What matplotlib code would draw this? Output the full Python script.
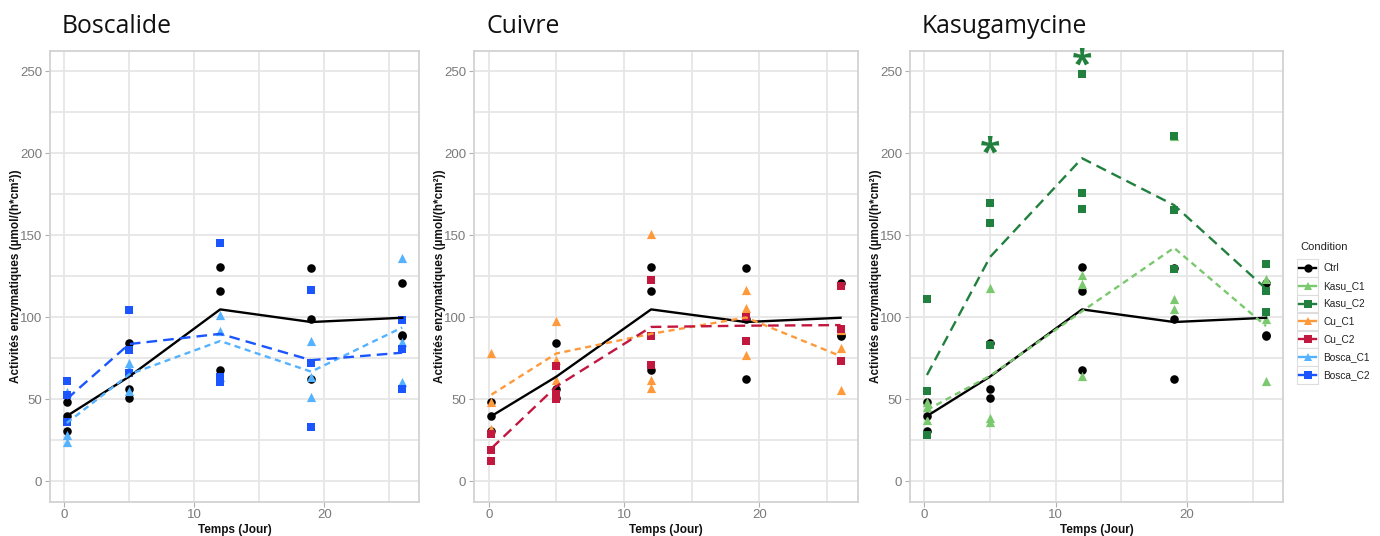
import numpy as np
import matplotlib
matplotlib.use("Agg")
import matplotlib.pyplot as plt
from matplotlib.lines import Line2D
from matplotlib.patches import Rectangle

# Sampling days and replicate measurements (3 per day) for each condition
days = [0.2, 5, 12, 19, 26]

ctrl = [[48.4, 39.8, 30.6], [84.1, 56.3, 50.6], [130.4, 115.7, 67.8],
        [130.0, 98.8, 62.0], [121.0, 89.2, 88.4]]
bosca_c1 = [[54.0, 28.0, 24.0], [72.0, 68.0, 55.0], [101.2, 91.2, 63.7],
            [85.1, 63.5, 51.4], [136.1, 84.5, 60.2]]
bosca_c2 = [[61.2, 52.7, 36.1], [104.5, 80.0, 66.0], [145.3, 63.3, 60.6],
            [116.5, 71.8, 32.7], [98.4, 80.4, 55.9]]
cu_c1 = [[78.0, 48.0, 32.0], [97.8, 73.9, 61.6], [150.6, 61.6, 57.0],
         [116.7, 105.5, 76.9], [92.0, 81.0, 55.5]]
cu_c2 = [[28.6, 19.2, 12.0], [70.4, 52.9, 49.8], [122.4, 88.6, 70.8],
         [99.8, 98.8, 85.5], [119.2, 92.7, 73.3]]
kasu_c1 = [[48.0, 45.0, 37.0], [117.8, 38.6, 36.0], [125.9, 120.2, 64.3],
           [210.6, 111.0, 104.9], [123.3, 98.8, 61.2]]
kasu_c2 = [[111.0, 54.9, 28.0], [169.4, 157.6, 82.7], [248.4, 175.9, 166.1],
           [210.2, 165.5, 129.0], [132.4, 116.1, 103.1]]

# Significance marks on the Kasugamycine panel (day, height)
star_days = [5, 12]
star_heights = [205.4, 259.0]

panel_titles = ["Boscalide", "Cuivre", "Kasugamycine"]
conditions = ["Ctrl", "Kasu_C1", "Kasu_C2", "Cu_C1", "Cu_C2", "Bosca_C1", "Bosca_C2"]

colors = {
    "Ctrl": "#000000",
    "Kasu_C1": "#7BC96F",
    "Kasu_C2": "#22803F",
    "Cu_C1": "#FF9A3C",
    "Cu_C2": "#C2173F",
    "Bosca_C1": "#55B2FF",
    "Bosca_C2": "#1A55FF",
}
markers = {"Ctrl": "o", "Kasu_C1": "^", "Kasu_C2": "s", "Cu_C1": "^",
           "Cu_C2": "s", "Bosca_C1": "^", "Bosca_C2": "s"}
LONG_DASH = (0, (4.5, 2.6))
SHORT_DASH = (0, (2.6, 1.9))
styles = {"Ctrl": "-", "Kasu_C1": SHORT_DASH, "Kasu_C2": LONG_DASH,
          "Cu_C1": SHORT_DASH, "Cu_C2": LONG_DASH,
          "Bosca_C1": SHORT_DASH, "Bosca_C2": LONG_DASH}
msizes = {"o": 38, "^": 44, "s": 30}

data = {"Ctrl": ctrl, "Kasu_C1": kasu_c1, "Kasu_C2": kasu_c2, "Cu_C1": cu_c1,
        "Cu_C2": cu_c2, "Bosca_C1": bosca_c1, "Bosca_C2": bosca_c2}
panels = [["Ctrl", "Bosca_C1", "Bosca_C2"],
          ["Ctrl", "Cu_C1", "Cu_C2"],
          ["Ctrl", "Kasu_C1", "Kasu_C2"]]

W, H = 1380, 536
fig = plt.figure(figsize=(W / 100, H / 100), dpi=100)
fig.patch.set_facecolor("white")

# axes boxes in pixels: (left, right)
boxes = [(50, 419), (474, 858), (910, 1283)]
top_px, bot_px = 50.5, 501.5

plt.rcParams["font.family"] = ["Liberation Sans", "DejaVu Sans"]

GRID = "#E6E6E6"
BORDER = "#D2D2D2"
TICKTXT = "#7A7A7A"

axes = []
for (l, r), conds, title in zip(boxes, panels, panel_titles):
    ax = fig.add_axes([l / W, 1 - bot_px / H, (r - l) / W, (bot_px - top_px) / H])
    axes.append(ax)
    ax.set_xlim(-1.09, 27.29)
    ax.set_ylim(-12.5, 262.5)
    ax.set_xticks([0, 10, 20])
    ax.set_xticks([5, 15, 25], minor=True)
    ax.set_yticks(np.arange(0, 251, 50))
    ax.set_yticks(np.arange(25, 251, 50), minor=True)
    ax.grid(which="both", color=GRID, lw=1.3, zorder=0)
    ax.set_axisbelow(True)
    for sp in ax.spines.values():
        sp.set_color(BORDER)
        sp.set_linewidth(1.3)
    ax.tick_params(which="major", length=3.5, width=0.8, color="#B0B0B0",
                   labelsize=9.5, labelcolor=TICKTXT, pad=2)
    ax.tick_params(which="minor", length=0)

    for c in conds:
        vals = np.array(data[c])
        xs = np.repeat(days, vals.shape[1])
        ax.scatter(xs, vals.ravel(), marker=markers[c], s=msizes[markers[c]],
                   color=colors[c], linewidths=0, zorder=3)
    for c in conds:
        means = np.array(data[c]).mean(axis=1)
        ax.plot(days, means, color=colors[c], ls=styles[c], lw=1.7, zorder=4,
                dash_capstyle="butt")

    ax.set_xlabel("Temps (Jour)", fontsize=8.5, fontweight="bold", color="#111111",
                  labelpad=2)
    ax.set_ylabel("Activités enzymatiques (µmol/(h*cm²))", fontsize=8.5,
                  fontweight="bold", color="#111111")
    ax.yaxis.set_label_coords(-28 / (r - l), 0.5)

    fig.text((l + 12) / W, 1 - 33 / H, title, fontsize=17.8,
             family=["Open Sans", "DejaVu Sans"], va="baseline", ha="left",
             color="#111111")

# asterisks for significant differences (Kasugamycine); the glyph sits high
# in its em box, so it is nudged down to centre it on the given height
for d, h in zip(star_days, star_heights):
    axes[2].annotate("*", xy=(d, h), xytext=(0, -7.5), textcoords="offset points",
                     fontsize=27, fontweight="bold", color=colors["Kasu_C2"],
                     ha="center", va="center", family=["Open Sans", "DejaVu Sans"],
                     annotation_clip=False, zorder=6)

# legend drawn in figure pixels
fig.text(1300 / W, 1 - 247 / H, "Condition", fontsize=8, color="#222222",
         va="center", ha="left")
row0, step = 268, 17.8
for i, c in enumerate(conditions):
    yc = row0 + i * step
    fig.add_artist(Rectangle((1297 / W, 1 - (yc + 8.7) / H), 21 / W, 17.4 / H,
                             transform=fig.transFigure, facecolor="white",
                             edgecolor="#DDDDDD", lw=0.8))
    fig.add_artist(Line2D([1299 / W, 1316 / W], [1 - yc / H, 1 - yc / H],
                          transform=fig.transFigure, color=colors[c], lw=1.7))
    fig.add_artist(Line2D([1307.5 / W], [1 - yc / H], transform=fig.transFigure,
                          marker=markers[c], color=colors[c], markersize=6,
                          markeredgewidth=0, ls="none"))
    fig.text(1323 / W, 1 - yc / H, c, fontsize=7.3, color="#222222",
             va="center", ha="left")

fig.savefig("out.png", dpi=100, facecolor="white")
